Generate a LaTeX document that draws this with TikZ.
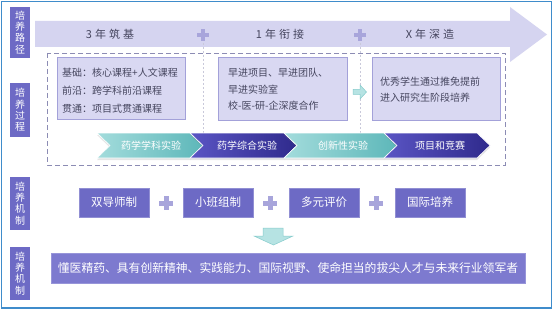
\documentclass[tikz,border=0pt]{standalone}
\usepackage{fontspec}
\setmainfont{Noto Sans CJK SC}
\usetikzlibrary{shadows}
\definecolor{frameblue}{HTML}{3F8CCB}
\definecolor{labpurple}{HTML}{6D6AC5}
\definecolor{bannerpurple}{HTML}{7D7ACF}
\definecolor{arrowlav}{HTML}{D5D4F0}
\definecolor{plusc}{HTML}{A8A5DB}
\definecolor{boxfill}{HTML}{D9D8F2}
\definecolor{boxline}{HTML}{A3A1D9}
\definecolor{dashc}{HTML}{8C8CB4}
\definecolor{vdashc}{HTML}{C9C9DA}
\definecolor{tealL}{HTML}{A3DCDC}
\definecolor{tealR}{HTML}{5DB7B9}
\definecolor{purL}{HTML}{5A55C4}
\definecolor{purR}{HTML}{2F2A8C}
\definecolor{arrteal}{HTML}{B6E3E3}
\definecolor{arrtealline}{HTML}{86CCCC}
\definecolor{txtdark}{HTML}{45455E}
\begin{document}
\begin{tikzpicture}[x=1pt,y=-1pt,
  lab/.style={fill=labpurple,text=white,minimum width=20pt,inner sep=0pt,align=center,font=\fontsize{10}{11.3}\selectfont},
  mech/.style={fill=labpurple,draw=labpurple!75!white,text=white,minimum width=70pt,minimum height=29pt,inner sep=0pt,font=\fontsize{11.5}{13}\selectfont},
  ibox/.style={fill=boxfill,draw=boxline,line width=0.8pt,inner sep=0pt},
  itext/.style={text=txtdark,font=\fontsize{10}{12}\selectfont,inner sep=0pt,anchor=west},
  stagetxt/.style={text=txtdark,font=\fontsize{11}{13}\selectfont,inner sep=0pt},
  chevtxt/.style={text=white,font=\fontsize{10}{12}\selectfont,inner sep=0pt},
  chevshadow/.style={drop shadow={shadow xshift=0pt,shadow yshift=-2pt,opacity=0.2,fill=gray}},
  pics/smallplus/.style={code={\fill[plusc] (-6,-2) rectangle (6,2); \fill[plusc] (-2,-6) rectangle (2,6);}},
  pics/bigplus/.style={code={\fill[plusc] (-7,-2.5) rectangle (7,2.5); \fill[plusc] (-2.5,-7) rectangle (2.5,7);}}
]
\useasboundingbox (0,0) rectangle (553,310);
\fill[white] (0,0) rectangle (553,310);
\draw[frameblue,line width=1.3pt] (1.2,1.2) rectangle (551.2,308);

% left labels
\node[lab,minimum height=51pt] (l1) at (20,32.5) {培\\养\\路\\径};
\node[lab,minimum height=54pt] (l2) at (20,110) {培\\养\\过\\程};
\node[lab,minimum height=53pt] (l3) at (20,203.5) {培\\养\\机\\制};
\node[lab,minimum height=53pt] (l4) at (20,273.5) {培\\养\\机\\制};

% big arrow
\fill[arrowlav] (35,21) -- (510,21) -- (510,7) -- (547,34.5) -- (510,62) -- (510,47) -- (35,47) -- cycle;
\node[stagetxt] (s1) at (110,34) {3\hspace{3pt}年\hspace{3pt}筑\hspace{3pt}基};
\node[stagetxt] (s2) at (280,34) {1\hspace{3pt}年\hspace{3pt}衔\hspace{3pt}接};
\node[stagetxt] (s3) at (430,34) {X\hspace{3pt}年\hspace{3pt}深\hspace{3pt}造};
\coordinate (p1) at (203,35);
\coordinate (p2) at (360,35);
\coordinate (q1) at (203,133);
\coordinate (q2) at (360,133);
\draw[vdashc,line width=0.6pt,dash pattern=on 2pt off 2pt] (p1) -- (q1);
\draw[vdashc,line width=0.6pt,dash pattern=on 2pt off 2pt] (p2) -- (q2);
\pic at (p1) {smallplus};
\pic at (p2) {smallplus};

% dashed frame
\draw[dashc,line width=0.9pt,dash pattern=on 5pt off 3pt] (47,53) rectangle (505,165);

% inner boxes
\node[ibox,minimum width=128pt,minimum height=62pt] (b1) at (121,88) {};
\node[itext] (t11) at (62,72.5) {基础：核心课程+人文课程};
\node[itext] (t12) at (62,90.5) {前沿：跨学科前沿课程};
\node[itext] (t13) at (62,108.5) {贯通：项目式贯通课程};

\node[ibox,minimum width=129pt,minimum height=63pt] (b2) at (282.5,88.5) {};
\node[itext] (t21) at (228,73) {早进项目、早进团队、};
\node[itext] (t22) at (228,89.5) {早进实验室};
\node[itext] (t23) at (228,106) {校-医-研-企深度合作};

\node[ibox,minimum width=128pt,minimum height=63pt] (b3) at (436,88.5) {};
\node[itext] (t31) at (380,82) {优秀学生通过推免提前};
\node[itext] (t32) at (380,98) {进入研究生阶段培养};

% small arrow
\fill[arrteal,draw=arrtealline,line width=0.5pt] (353,89.5) -- (360,89.5) -- (360,85) -- (366.5,92) -- (360,99) -- (360,94.5) -- (353,94.5) -- cycle;

% chevrons
\path[chevshadow,left color=tealL,right color=tealR,draw=white,line width=0.6pt] (97,133) -- (190,133) -- (203,145.5) -- (190,158) -- (97,158) -- (110,145.5) -- cycle;
\path[chevshadow,left color=purL,right color=purR,draw=white,line width=0.6pt] (190,133) -- (284,133) -- (297,145.5) -- (284,158) -- (190,158) -- (203,145.5) -- cycle;
\path[chevshadow,left color=tealL,right color=tealR,draw=white,line width=0.6pt] (284,133) -- (384,133) -- (397,145.5) -- (384,158) -- (284,158) -- (297,145.5) -- cycle;
\path[chevshadow,left color=purL,right color=purR,draw=white,line width=0.6pt] (384,133) -- (477,133) -- (490,145.5) -- (477,158) -- (384,158) -- (397,145.5) -- cycle;
\node[chevtxt] (c1) at (151,145.5) {药学学科实验};
\node[chevtxt] (c2) at (247,145.5) {药学综合实验};
\node[chevtxt] (c3) at (343,145.5) {创新性实验};
\node[chevtxt] (c4) at (440,145.5) {项目和竞赛};

% mechanism row
\node[mech] (m1) at (114,202.5) {双导师制};
\node[mech] (m2) at (218,202.5) {小班组制};
\node[mech] (m3) at (324,202.5) {多元评价};
\node[mech] (m4) at (430,202.5) {国际培养};
\pic at (166,203) {bigplus};
\pic at (270,203) {bigplus};
\pic at (376,203) {bigplus};

% down arrow
\fill[arrteal,draw=arrtealline,line width=0.5pt] (263,228) -- (283,228) -- (283,236) -- (293,236) -- (273.5,245) -- (254,236) -- (263,236) -- cycle;

% banner
\node[fill=bannerpurple,draw=bannerpurple!80!white,text=white,minimum width=474pt,minimum height=30pt,inner sep=0pt,font=\fontsize{11.8}{14}\selectfont] (goal) at (288,268) {懂医精药、具有创新精神、实践能力、国际视野、使命担当的拔尖人才与未来行业领军者};
\end{tikzpicture}
\end{document}
